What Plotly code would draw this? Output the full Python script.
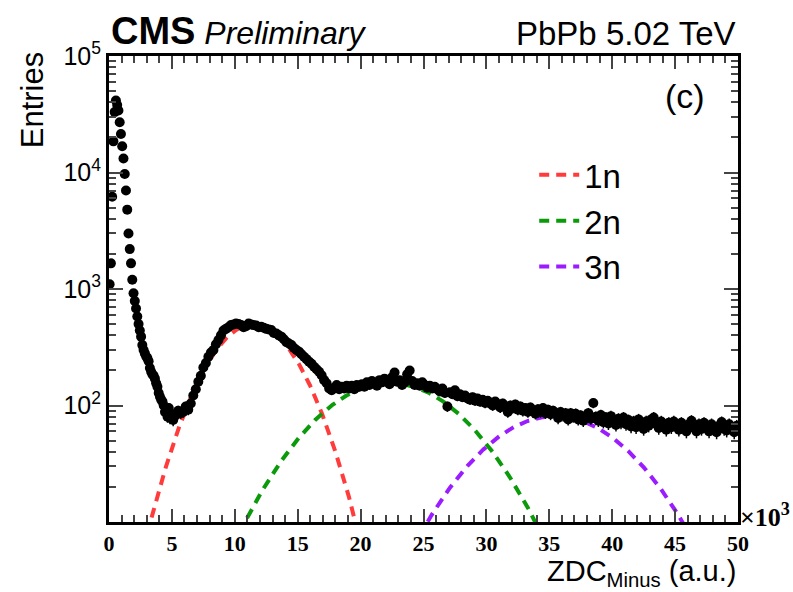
import numpy as np
import plotly.graph_objects as go

# ---- data (x in units of 10^3 a.u.) ----
# fine bins (width 0.1) from 0 to 5
fine_x0, fine_w = 0.05, 0.1
fine_counts = [1100, 1660, 6200, 18500, 33000, 41500, 38000, 34000, 27000, 21400,
               16800, 13200, 9700, 7000, 4800, 3000, 2200, 1660, 1200, 920,
               790, 680, 580, 500, 440, 390, 330, 300, 280, 265,
               255, 240, 210, 195, 185, 180, 170, 155, 145, 128,
               119, 112, 108, 100, 88, 92, 80, 95, 78, 85]
# coarse bins (width 0.2) from 5 to 50
coarse_x0, coarse_w = 5.1, 0.2
coarse_counts = [
    75, 82, 90, 86, 88, 98, 92, 104, 122, 138,
    160, 180, 212, 232, 262, 285, 300, 335, 365, 400,
    440, 455, 470, 490, 495, 505, 500, 490, 470, 480,
    505, 495, 490, 485, 470, 475, 465, 455, 450, 445,
    420, 415, 400, 390, 370, 350, 340, 330, 312, 300,
    290, 275, 262, 250, 238, 228, 215, 205, 195, 182,
    165, 155, 140, 135, 142, 150, 138, 145, 140, 148,
    140, 148, 138, 150, 145, 152, 145, 158, 150, 162,
    155, 148, 165, 158, 170, 160, 152, 175, 192, 160,
    165, 150, 158, 185, 200, 162, 150, 155, 148, 158,
    150, 142, 148, 140, 145, 138, 132, 140, 128, 98,
    130, 125, 135, 120, 125, 118, 122, 115, 112, 118,
    110, 115, 108, 112, 105, 110, 104, 100, 108, 102,
    96, 104, 98, 88, 100, 95, 102, 92, 98, 90,
    95, 88, 96, 90, 85, 93, 88, 95, 86, 92,
    84, 90, 86, 78, 88, 82, 86, 76, 86, 80,
    85, 76, 82, 74, 80, 86, 77, 105, 80, 74,
    83, 72, 79, 70, 81, 75, 68, 77, 71, 79,
    69, 75, 66, 73, 65, 76, 70, 63, 73, 67,
    76, 79, 69, 64, 73, 67, 62, 71, 65, 73,
    68, 62, 71, 65, 60, 69, 74, 64, 60, 69,
    63, 71, 66, 60, 69, 63, 59, 67, 72, 63,
    61, 69, 63, 59, 67]

# fitted gaussian components: (label, amplitude, mean, sigma)
comp_labels = ["1n", "2n", "3n"]
comp_amp = [495, 156, 81]
comp_mean = [11.45, 22.35, 35.45]
comp_sigma = [2.92, 4.93, 4.96]
comp_colors = ["#ff3b3b", "#0a9a0a", "#9a1cff"]

x_ticks = list(range(0, 51, 5))
y_ticks = [1e2, 1e3, 1e4, 1e5]
y_ticktext = ["10<sup>2</sup>", "10<sup>3</sup>", "10<sup>4</sup>", "10<sup>5</sup>"]

# ---- build ----
xs = np.concatenate([fine_x0 + fine_w * np.arange(len(fine_counts)),
                     coarse_x0 + coarse_w * np.arange(len(coarse_counts))])
ys = np.array(fine_counts + coarse_counts, dtype=float)

fig = go.Figure()

for lab, a, m, s, c in zip(comp_labels, comp_amp, comp_mean, comp_sigma, comp_colors):
    xx = np.linspace(m - 3.2 * s, m + 3.2 * s, 300)
    xx = xx[(xx >= 0) & (xx <= 50)]
    yy = a * np.exp(-0.5 * ((xx - m) / s) ** 2)
    fig.add_trace(go.Scatter(x=xx, y=yy, mode="lines", name=lab,
                             line=dict(color=c, width=4, dash="10px,7px"),
                             showlegend=True))

fig.add_trace(go.Scatter(x=xs, y=ys, mode="markers", showlegend=False,
                         marker=dict(color="black", size=10),
                         error_y=dict(type="data", array=np.sqrt(ys), color="black",
                                      thickness=1.5, width=0)))

minor_y = [m * 10 ** k for k in range(1, 5) for m in range(2, 10)]

fig.update_layout(
    width=793, height=592,
    margin=dict(l=109, r=55, t=56, b=70),
    paper_bgcolor="white", plot_bgcolor="white",
    font=dict(family="Liberation Sans", color="black"),
    legend=dict(x=0.676, y=0.805, xanchor="left", yanchor="top",
                bgcolor="rgba(0,0,0,0)", font=dict(size=33, family="Liberation Sans"),
                tracegroupgap=0, itemwidth=40),
    xaxis=dict(range=[0, 50], tickvals=x_ticks, ticks="inside", ticklen=13, tickwidth=2,
               showline=True, linewidth=3, linecolor="black", mirror="allticks",
               showgrid=False, zeroline=False, ticklabelstandoff=0,
               tickfont=dict(family="Liberation Serif", size=22, weight="bold"),
               minor=dict(ticks="inside", ticklen=7, tickwidth=1.5, dtick=1, showgrid=False)),
    yaxis=dict(type="log", range=[1, 5], tickvals=y_ticks, ticktext=y_ticktext,
               ticks="inside", ticklen=14, tickwidth=2,
               showline=True, linewidth=3, linecolor="black", mirror="allticks",
               showgrid=False, zeroline=False,
               tickfont=dict(family="Liberation Sans", size=25),
               minor=dict(ticks="inside", ticklen=7, tickwidth=1.5, tickvals=minor_y,
                          showgrid=False)),
    annotations=[
        dict(text="<b><span style='font-size:38px'>CMS</span></b> <i>Preliminary</i>",
             x=0, y=1.0, xref="paper", yref="paper",
             xanchor="left", yanchor="bottom", yshift=2, showarrow=False,
             font=dict(size=32, family="Liberation Sans")),
        dict(text="PbPb 5.02 TeV", x=1, y=1.0, xref="paper", yref="paper",
             xanchor="right", yanchor="bottom", yshift=2, showarrow=False,
             font=dict(size=33, family="Liberation Sans")),
        dict(text="(c)", x=0.951, y=0.915, xref="paper", yref="paper",
             xanchor="right", yanchor="middle", showarrow=False,
             font=dict(size=34, family="Liberation Sans")),
        dict(text="Entries", x=-0.122, y=1.0, xref="paper", yref="paper",
             xanchor="center", yanchor="top", textangle=-90, yshift=6, showarrow=False,
             font=dict(size=31, family="Liberation Sans")),
        dict(text="ZDC<sub>Minus</sub> (a.u.)", x=1.0, y=0, xref="paper", yref="paper",
             xanchor="right", yanchor="top", yshift=-31, showarrow=False,
             font=dict(size=29, family="Liberation Sans")),
        dict(text="×10<sup>3</sup>", x=1.0, y=0, xref="paper", yref="paper",
             xanchor="left", yanchor="bottom", xshift=0, yshift=-12, showarrow=False,
             font=dict(size=26, family="Liberation Serif", weight="bold")),
    ],
)

fig.write_html("out.html")
